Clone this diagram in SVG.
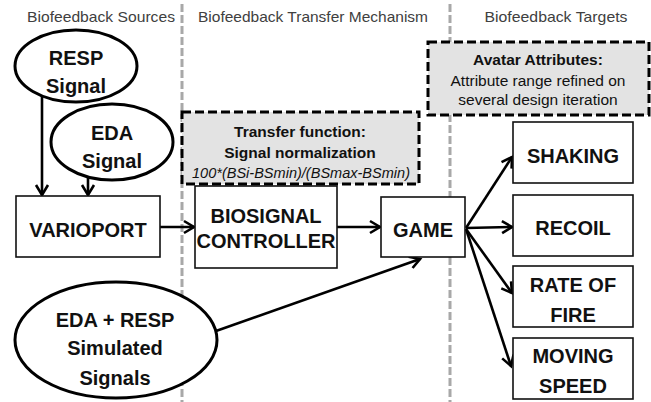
<svg xmlns="http://www.w3.org/2000/svg" width="651" height="402" viewBox="0 0 651 402">
<style>
.title{font-family:"Liberation Sans",Arial,sans-serif;font-size:15px;fill:#404040;text-anchor:middle}
.lbl{font-family:"Liberation Sans",Arial,sans-serif;font-size:20px;font-weight:bold;fill:#111;text-anchor:middle}
.note{font-family:"Liberation Sans",Arial,sans-serif;font-size:15.5px;fill:#111;text-anchor:middle}
.box{fill:#fff;stroke:#111;stroke-width:1.6}
.ell{fill:#fff;stroke:#000;stroke-width:3}
.dbox{fill:#e3e3e3;stroke:#000;stroke-width:3;stroke-dasharray:9 4}
.div{stroke:#a8a8a8;stroke-width:3;stroke-dasharray:8 3;fill:none}
.con{stroke:#000;stroke-width:2.6;fill:none;marker-end:url(#arr)}
</style>
<defs>
<marker id="arr" markerUnits="userSpaceOnUse" markerWidth="16" markerHeight="16" refX="12" refY="8" orient="auto">
<path d="M2,2 L12,8 L2,14" fill="none" stroke="#000" stroke-width="2.6"/>
</marker>
</defs>
<rect width="651" height="402" fill="#fff"/>
<g id="dividers">
<line class="div" x1="182" y1="4" x2="182" y2="402"/>
<line class="div" x1="450" y1="4" x2="450" y2="402"/>
</g>
<g id="titles">
<text class="title" x="101" y="22" textLength="148" lengthAdjust="spacingAndGlyphs">Biofeedback Sources</text>
<text class="title" x="313" y="22" textLength="230" lengthAdjust="spacingAndGlyphs">Biofeedback Transfer Mechanism</text>
<text class="title" x="556" y="22" textLength="143" lengthAdjust="spacingAndGlyphs">Biofeedback Targets</text>
</g>
<g id="transfer-function">
<rect class="dbox" x="182" y="112" width="237" height="72"/>
<text class="note" x="300" y="137" font-weight="bold">Transfer function:</text>
<text class="note" x="300" y="158" font-weight="bold">Signal normalization</text>
<text class="note" x="301" y="178" font-style="italic" font-size="14" textLength="218" lengthAdjust="spacingAndGlyphs">100*(BSi-BSmin)/(BSmax-BSmin)</text>
</g>
<g id="avatar-attributes">
<rect class="dbox" x="428" y="42" width="221" height="73"/>
<text class="note" x="538" y="65" font-weight="bold">Avatar Attributes:</text>
<text class="note" x="538" y="86">Attribute range refined on</text>
<text class="note" x="538" y="105">several design iteration</text>
</g>
<g id="connectors">
<line class="con" x1="42" y1="96" x2="42" y2="195"/>
<line class="con" x1="88" y1="178" x2="88" y2="195"/>
<line class="con" x1="160" y1="227" x2="194" y2="227"/>
<line class="con" x1="337" y1="227" x2="380" y2="227"/>
<line class="con" x1="216" y1="331" x2="420" y2="259"/>
<line class="con" x1="466" y1="228" x2="512" y2="157"/>
<line class="con" x1="466" y1="228" x2="512" y2="227"/>
<line class="con" x1="466" y1="229" x2="512" y2="293"/>
<line class="con" x1="466" y1="229" x2="511" y2="366"/>
</g>
<g id="resp-signal">
<ellipse class="ell" cx="76" cy="66" rx="61" ry="36"/>
<text class="lbl" x="76" y="65">RESP</text>
<text class="lbl" x="76" y="93">Signal</text>
</g>
<g id="eda-signal">
<ellipse class="ell" cx="112" cy="142" rx="61" ry="38"/>
<text class="lbl" x="112" y="140">EDA</text>
<text class="lbl" x="112" y="168">Signal</text>
</g>
<g id="varioport">
<rect class="box" x="16" y="196" width="144" height="61"/>
<text class="lbl" x="88" y="237">VARIOPORT</text>
</g>
<g id="biosignal-controller">
<rect class="box" x="195" y="186" width="142" height="82"/>
<text class="lbl" x="266" y="223" font-size="18">BIOSIGNAL</text>
<text class="lbl" x="266" y="248" font-size="18">CONTROLLER</text>
</g>
<g id="game">
<rect class="box" x="381" y="197" width="84" height="60"/>
<text class="lbl" x="423" y="237">GAME</text>
</g>
<g id="simulated-signals">
<ellipse class="ell" cx="116" cy="340" rx="101" ry="58"/>
<text class="lbl" x="115" y="327">EDA + RESP</text>
<text class="lbl" x="115" y="355">Simulated</text>
<text class="lbl" x="115" y="385">Signals</text>
</g>
<g id="shaking">
<rect class="box" x="513" y="122" width="120" height="61"/>
<text class="lbl" x="573" y="163">SHAKING</text>
</g>
<g id="recoil">
<rect class="box" x="513" y="195" width="120" height="61"/>
<text class="lbl" x="573" y="235">RECOIL</text>
</g>
<g id="rate-of-fire">
<rect class="box" x="513" y="266" width="120" height="61"/>
<text class="lbl" x="573" y="292">RATE OF</text>
<text class="lbl" x="573" y="322">FIRE</text>
</g>
<g id="moving-speed">
<rect class="box" x="513" y="338" width="120" height="61"/>
<text class="lbl" x="573" y="363">MOVING</text>
<text class="lbl" x="573" y="393">SPEED</text>
</g>
</svg>
